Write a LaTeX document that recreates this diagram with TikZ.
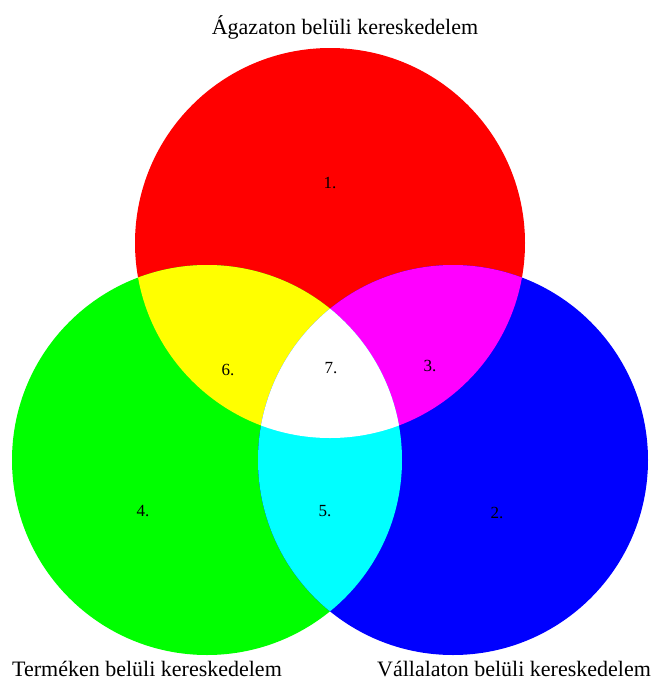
\documentclass[tikz,border=0pt]{standalone}
\usepackage{fontspec}
\setmainfont{Liberation Serif}
\usetikzlibrary{positioning}
\definecolor{setred}{RGB}{255,0,0}
\definecolor{setgreen}{RGB}{0,255,0}
\definecolor{setblue}{RGB}{0,0,255}
\definecolor{setyellow}{RGB}{255,255,0}
\definecolor{setmagenta}{RGB}{255,0,255}
\definecolor{setcyan}{RGB}{0,255,255}

\begin{document}
\begin{tikzpicture}[
  x=1pt, y=-1pt,
  title/.style={font=\fontsize{22}{26}\selectfont, inner sep=0pt},
  num/.style={font=\fontsize{17}{20}\selectfont, inner sep=0pt}
]
\fill[white] (0,0) rectangle (651,681);
\useasboundingbox (0,0) rectangle (651,681);
\def\rad{195pt}

\coordinate (ag) at (330,243);
\coordinate (term) at (207,460);
\coordinate (vall) at (453,460);

% the three sets
\fill[setred] (ag) circle[radius=\rad];
\fill[setgreen] (term) circle[radius=\rad];
\fill[setblue] (vall) circle[radius=\rad];

% overlaps
\begin{scope}
  \clip (ag) circle[radius=\rad];
  \fill[setyellow] (term) circle[radius=\rad];
  \fill[setmagenta] (vall) circle[radius=\rad];
\end{scope}
\begin{scope}
  \clip (term) circle[radius=\rad];
  \fill[setcyan] (vall) circle[radius=\rad];
\end{scope}
\begin{scope}
  \clip (ag) circle[radius=\rad];
  \clip (term) circle[radius=\rad];
  \fill[white] (vall) circle[radius=\rad];
\end{scope}

\node[num] (n1) at (330,183) {1.};
\node[num] (n2) at (497,513) {2.};
\node[num] (n3) at (430,366) {3.};
\node[num] (n4) at (143,511) {4.};
\node[num] (n5) at (325,511) {5.};
\node[num] (n6) at (228,370) {6.};
\node[num] (n7) at (331,368) {7.};

\node[title] (agazat) at (345,27) {Ágazaton belüli kereskedelem};
\node[title] (termek) at (147,669) {Terméken belüli kereskedelem};
\node[title] (vallalat) at (514,669) {Vállalaton belüli kereskedelem};
\end{tikzpicture}
\end{document}
